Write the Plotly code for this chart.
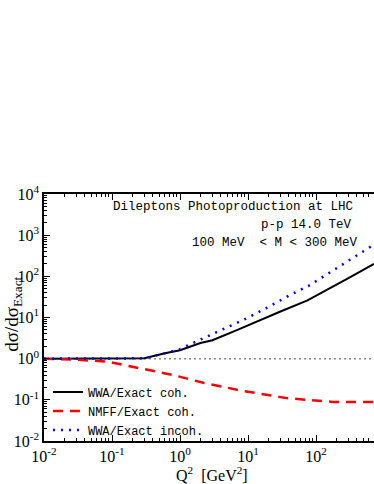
import plotly.graph_objects as go

# ---- data ----
q2_black = [0.01, 0.03, 0.1, 0.3, 0.6, 1.0, 2.0, 3.0, 7.0, 15, 30, 75, 150, 300, 713]
wwa_coh = [1.0, 1.0, 1.0, 1.02, 1.35, 1.6, 2.4, 2.8, 5.0, 8.7, 14, 26, 48, 90, 200]

q2_blue = [0.01, 0.03, 0.1, 0.3, 0.6, 1.0, 1.55, 3.0, 8.5, 20, 40, 81, 160, 316, 713]
wwa_incoh = [1.0, 1.0, 1.0, 1.02, 1.35, 1.7, 2.4, 4.0, 8.7, 18, 34, 61, 123, 247, 590]

q2_red = [0.01, 0.03, 0.085, 0.2, 0.4, 0.79, 2.2, 7.6, 37, 178, 400, 713]
nmff_coh = [1.0, 0.94, 0.85, 0.63, 0.5, 0.4, 0.26, 0.17, 0.11, 0.089, 0.088, 0.089]

ref_x = [1e-2, 1e3]
ref_y = [1.0, 1.0]

x_tickvals = [1e-2, 1e-1, 1e0, 1e1, 1e2]
x_ticktext = ["10<sup>-2</sup>", "10<sup>-1</sup>", "10<sup>0</sup>", "10<sup>1</sup>", "10<sup>2</sup>"]
y_tickvals = [1e-2, 1e-1, 1e0, 1e1, 1e2, 1e3, 1e4]
y_ticktext = ["10<sup>-2</sup>", "10<sup>-1</sup>", "10<sup>0</sup>", "10<sup>1</sup>",
              "10<sup>2</sup>", "10<sup>3</sup>", "10<sup>4</sup>"]

labels = ["WWA/Exact coh.", "NMFF/Exact coh.", "WWA/Exact incoh."]
info_lines = ["Dileptons Photoproduction at LHC", "p-p 14.0 TeV", "100 MeV  < M < 300 MeV"]
x_title = "Q<sup>2</sup>  [GeV<sup>2</sup>]"
y_title = "dσ/dσ<sub>Exact</sub>"

SERIF = "Liberation Serif"
MONO = "Liberation Mono"

fig = go.Figure()
fig.add_trace(go.Scatter(x=ref_x, y=ref_y, mode="lines", showlegend=False,
                         line=dict(color="#888888", width=1.5, dash="2px,3px"), hoverinfo="skip"))
fig.add_trace(go.Scatter(x=q2_black, y=wwa_coh, mode="lines", name=labels[0],
                         line=dict(color="black", width=2)))
fig.add_trace(go.Scatter(x=q2_red, y=nmff_coh, mode="lines", name=labels[1],
                         line=dict(color="red", width=2.5, dash="10px,7px")))
fig.add_trace(go.Scatter(x=q2_blue, y=wwa_incoh, mode="lines", name=labels[2],
                         line=dict(color="blue", width=2.5, dash="2px,6px")))

axis_common = dict(
    type="log", showgrid=False, zeroline=False, showline=True, linecolor="black", linewidth=1.5,
    ticks="inside", ticklen=6, tickwidth=1.2, tickcolor="black", tickmode="array",
    tickfont=dict(family=SERIF, size=16, color="black"), automargin=False,
    minor=dict(ticks="inside", ticklen=3, tickwidth=1, tickcolor="black", dtick="D1", showgrid=False),
)

fig.update_layout(
    width=374, height=484,
    margin=dict(l=44, r=0, t=194, b=43),
    paper_bgcolor="white", plot_bgcolor="white",
    xaxis=dict(axis_common, range=[-2, 2.853], tickvals=x_tickvals, ticktext=x_ticktext, mirror="ticks"),
    yaxis=dict(axis_common, range=[-2, 4], tickvals=y_tickvals, ticktext=y_ticktext, mirror=False),
    legend=dict(x=0.012, y=0.257, xanchor="left", yanchor="top", bgcolor="rgba(0,0,0,0)",
                font=dict(family=MONO, size=12, color="black"), tracegroupgap=0),
    showlegend=True,
)

ann_pos = [(0.942, 0.947), (0.94, 0.874), (0.958, 0.802)]
for txt, (ax_, ay_) in zip(info_lines, ann_pos):
    fig.add_annotation(text=txt.replace("  ", "&nbsp; "), xref="paper", yref="paper", x=ax_, y=ay_,
                       xanchor="right", yanchor="middle", showarrow=False,
                       font=dict(family=MONO, size=12.5, color="black"))

fig.add_annotation(text=x_title, xref="paper", yref="paper", x=0.51, y=-0.132,
                   xanchor="center", yanchor="middle", showarrow=False,
                   font=dict(family=SERIF, size=16, color="black"))

fig.add_annotation(text=y_title, xref="paper", yref="paper",
                   x=-0.094, y=0.515, textangle=-90, xanchor="center", yanchor="middle",
                   showarrow=False, font=dict(family=SERIF, size=19, color="black"))

fig.write_html("out.html", config={"displayModeBar": False},
               post_script="document.body.style.margin='0';document.body.style.overflow='hidden';")
